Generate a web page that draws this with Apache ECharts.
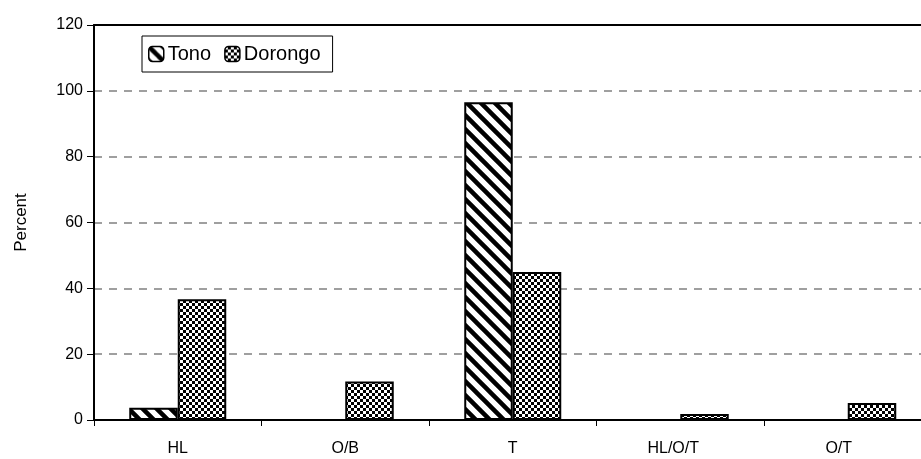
<!DOCTYPE html>
<html>
<head>
<meta charset="utf-8">
<script src="https://cdn.jsdelivr.net/npm/echarts@6/dist/echarts.min.js"></script>
<style>
  html, body { margin: 0; padding: 0; background: #fff; }
  #chart { width: 921px; height: 459px; }
</style>
</head>
<body>
<div id="chart"></div>
<script>
// Categories and series values (percent)
const categories = ['HL', 'O/B', 'T', 'HL/O/T', 'O/T'];
const tonoValues = [3.7, 0, 96.5, 0, 0];
const dorongoValues = [36.7, 11.7, 45.0, 1.8, 5.2];
const yTicks = { min: 0, max: 120, interval: 20 };

// Diagonal hatch fill (top-left to bottom-right stripes)
function makeHatch() {
  const s = 14;
  const c = document.createElement('canvas');
  c.width = s; c.height = s;
  const g = c.getContext('2d');
  g.fillStyle = '#fff';
  g.fillRect(0, 0, s, s);
  g.strokeStyle = '#000';
  g.lineWidth = 4.5;
  g.beginPath();
  for (let k = -1; k <= 1; k++) {
    g.moveTo(k * s - 2, -2);
    g.lineTo(k * s + s + 2, s + 2);
  }
  g.stroke();
  return c;
}

// Small checkerboard fill
function makeChecker() {
  const cell = 3;
  const c = document.createElement('canvas');
  c.width = cell * 2; c.height = cell * 2;
  const g = c.getContext('2d');
  g.fillStyle = '#000';
  g.fillRect(0, 0, cell * 2, cell * 2);
  g.fillStyle = '#fff';
  g.fillRect(0, 0, cell, cell);
  g.fillRect(cell, cell, cell, cell);
  return c;
}

const hatchFill = { image: makeHatch(), repeat: 'repeat' };
const checkerFill = { image: makeChecker(), repeat: 'repeat' };

const font = 'Liberation Sans, Arial, sans-serif';

// the two rightmost labels sit slightly left of their category centres
const labelStyleBase = { fontFamily: font, fontSize: 16, color: '#000' };
const labelRich = {
  n: Object.assign({}, labelStyleBase),
  l3: Object.assign({ padding: [0, 14, 0, 0] }, labelStyleBase),
  l4: Object.assign({ padding: [0, 18, 0, 0] }, labelStyleBase)
};

const chart = echarts.init(document.getElementById('chart'), null, { renderer: 'canvas' });
chart.setOption({
  animation: false,
  backgroundColor: '#fff',
  textStyle: { fontFamily: font, color: '#000' },
  grid: {
    left: 94, top: 25, bottom: 39, width: 837.5,
    outerBoundsMode: 'none',
    containLabel: false
  },
  legend: {
    left: 142, top: 36,
    padding: [8, 12, 8, 6],
    itemWidth: 15, itemHeight: 15, itemGap: 13,
    borderColor: '#000', borderWidth: 1,
    backgroundColor: '#fff',
    textStyle: { fontFamily: font, fontSize: 20, color: '#000', padding: [0, 0, 0, -1] },
    data: [
      { name: 'Tono', itemStyle: { color: hatchFill, borderColor: '#000', borderWidth: 1.5 } },
      { name: 'Dorongo', itemStyle: { color: checkerFill, borderColor: '#000', borderWidth: 1.5 } }
    ]
  },
  xAxis: [
    {
      type: 'category',
      data: categories,
      axisLine: { lineStyle: { color: '#000', width: 2 } },
      axisTick: { show: true, length: 6, lineStyle: { color: '#000', width: 1 } },
      axisLabel: {
        fontFamily: font, fontSize: 16, color: '#000', margin: 21,
        formatter: function (v, i) {
          if (i === 3) return '{l3|' + v + '}';
          if (i === 4) return '{l4|' + v + '}';
          return '{n|' + v + '}';
        },
        rich: labelRich
      },
      splitLine: { show: false }
    },
    {
      // solid frame line along the top of the plot
      type: 'category',
      position: 'top',
      data: categories,
      axisLine: { show: true, lineStyle: { color: '#000', width: 2 } },
      axisTick: { show: false },
      axisLabel: { show: false },
      splitLine: { show: false }
    }
  ],
  yAxis: {
    type: 'value',
    min: yTicks.min, max: yTicks.max, interval: yTicks.interval,
    name: 'Percent',
    nameLocation: 'middle',
    nameGap: 64,
    nameRotate: 90,
    nameTextStyle: { fontFamily: font, fontSize: 17, color: '#000' },
    axisLine: { show: true, lineStyle: { color: '#000', width: 2 } },
    axisTick: { show: true, length: 7, lineStyle: { color: '#000', width: 1 } },
    axisLabel: { fontFamily: font, fontSize: 16, color: '#000', margin: 11 },
    splitLine: { show: true, lineStyle: { color: '#808080', width: 1.5, type: [8, 7] } }
  },
  series: [
    {
      name: 'Tono', type: 'bar', data: tonoValues,
      barWidth: 48.5, barGap: '0%',
      itemStyle: { color: hatchFill, borderColor: '#000', borderWidth: 2 }
    },
    {
      name: 'Dorongo', type: 'bar', data: dorongoValues,
      barWidth: 48.5, barGap: '0%',
      itemStyle: { color: checkerFill, borderColor: '#000', borderWidth: 2 }
    }
  ]
});
</script>
</body>
</html>
